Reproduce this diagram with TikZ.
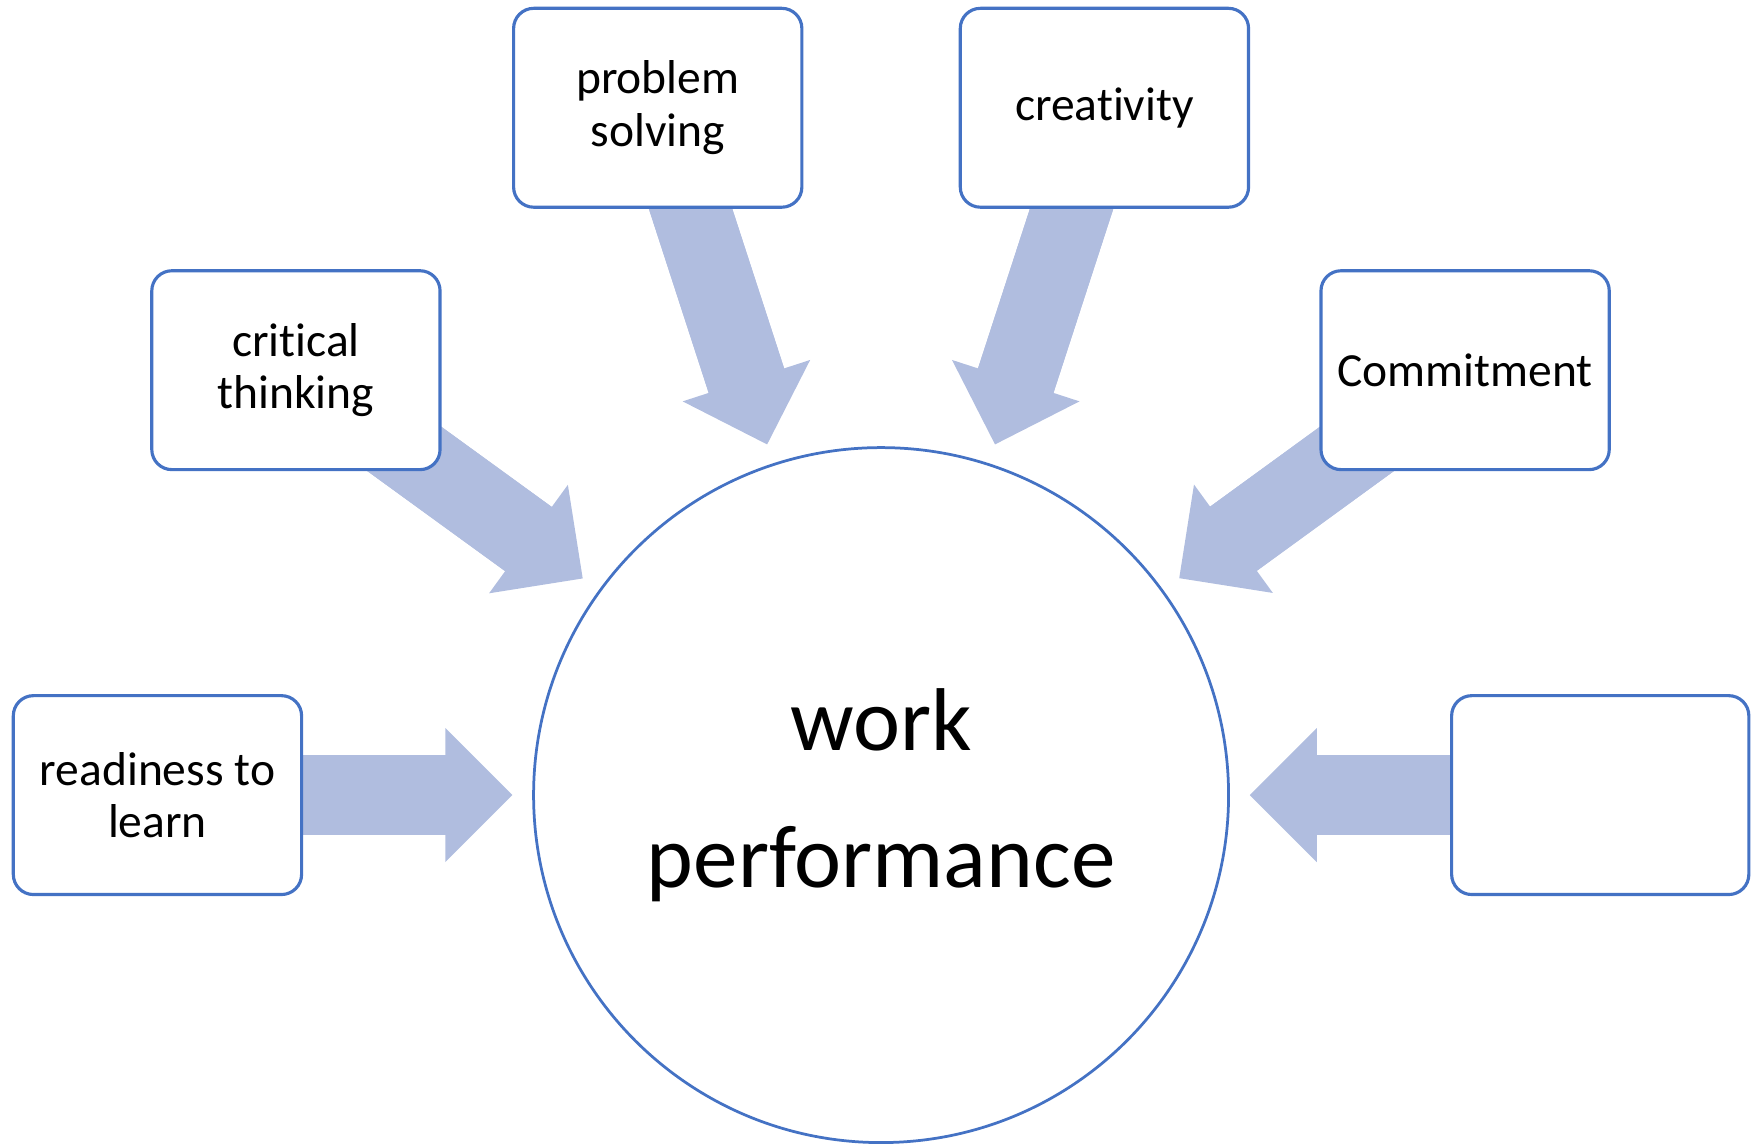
\documentclass[tikz,border=0pt]{standalone}
\usepackage{fontspec}
\setmainfont{Carlito}[Ligatures=NoCommon,Contextuals=NoAlternate]
\usetikzlibrary{arrows.meta,backgrounds,positioning}
\definecolor{boxblue}{HTML}{4472C4}
\definecolor{arrowfill}{RGB}{176,189,223}

\begin{document}
\begin{tikzpicture}[x=0.01cm,y=-0.01cm,
    skill/.style={draw=boxblue,line width=0.8pt,rounded corners=0.18cm,fill=white,
      minimum width=2.58cm,minimum height=1.78cm,inner sep=0pt,align=center,
      font=\fontsize{12.1}{13.4}\selectfont},
    goal/.style={draw=boxblue,line width=0.7pt,circle,fill=white,minimum size=6.22cm,
      inner sep=0pt,align=center,font=\fontsize{22.7}{34.9}\selectfont},
    shaft/.style={draw=arrowfill,line width=0.71cm,shorten >=3.8cm},
    feed/.style={draw=arrowfill,line width=0.71cm,shorten >=3.3cm,
      -{Triangle[length=0.6cm,width=1.2cm,line width=0pt]}}]
    \useasboundingbox (0,0) rectangle (1568,1024);
    % Centre circle
    \node[goal] (wp) at (789,712) {work\\performance};
    % Skill boxes
    \node[skill] (ps) at (589,96.5) {problem\\solving};
    \node[skill] (cr) at (989,96.5) {creativity};
    \node[skill] (ct) at (265,331.5) {critical\\thinking};
    \node[skill] (cm) at (1312,331.5) {Commitment};
    \node[skill] (rl) at (141,712) {readiness to\\learn};
    \node[skill,minimum width=2.66cm] (blank) at (1433,712) {};
    % Block arrows, behind the boxes
    \begin{scope}[on background layer]
      \foreach \s in {ps,cr,ct,cm,rl,blank}{
        \draw[shaft] (\s.center) -- (wp.center);
        \draw[feed] (\s.center) -- (wp.center);
      }
    \end{scope}
\end{tikzpicture}
\end{document}
